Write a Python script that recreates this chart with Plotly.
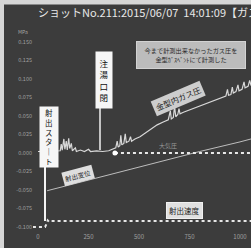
import plotly.graph_objects as go

# ---------------- data ----------------
x_ticks = [0, 250, 500, 750, 1000]
x_tick_labels = ["0", "250", "500", "750", "1000"]
y_ticks = [0.150, 0.125, 0.100, 0.075, 0.050, 0.025, 0.000, -0.025, -0.050, -0.075, -0.100]
y_tick_labels = ["0.150", "0.125", "0.100", "0.075", "0.050", "0.025", "0.000",
                 "-0.025", "-0.050", "-0.075", "-0.100"]

gas_x = [0, 30, 60, 90, 110, 115, 120, 128, 133, 140, 145, 152, 157, 165, 170, 185, 190,
         210, 230, 250, 260, 290, 320, 350,
         370, 385, 392, 397, 405, 410, 415, 425, 432, 437, 450, 458, 463, 480, 505, 530,
         560, 590, 620, 645, 655, 660, 670, 676, 682, 692, 698, 703, 720, 750, 780, 800,
         830, 860, 890, 915, 930, 938, 943, 955, 962, 967, 980, 990, 995, 1010, 1020,
         1025, 1040, 1048, 1055]
gas_y = [0.002, 0.002, 0.003, 0.002, 0.003, 0.012, 0.004, 0.019, 0.005, 0.016, 0.004,
         0.020, 0.006, 0.013, 0.003, 0.007, 0.002,
         0.004, 0.002, 0.005, 0.002, 0.003, 0.002, 0.003,
         0.005, 0.007, 0.016, 0.008, 0.010, 0.024, 0.011, 0.013, 0.026, 0.014, 0.016,
         0.022, 0.016, 0.019, 0.022, 0.027,
         0.033, 0.038, 0.042, 0.045, 0.057, 0.046, 0.048, 0.063, 0.049, 0.052, 0.060,
         0.053, 0.055, 0.058, 0.062, 0.064,
         0.067, 0.070, 0.072, 0.075, 0.077, 0.086, 0.078, 0.079, 0.089, 0.081, 0.083,
         0.092, 0.084, 0.086, 0.096,
         0.088, 0.090, 0.098, 0.091]

disp_x = [45, 200, 400, 600, 800, 1000, 1055]
disp_y = [-0.051, -0.040, -0.026, -0.012, 0.002, 0.015, 0.019]

speed_x = [-25, 35, 42, 48, 55, 62, 80, 1055]
speed_y = [-0.100, -0.100, -0.096, -0.091, -0.093, -0.092, -0.092, -0.092]

atm_x = [381, 1055]
atm_y = [0.0, 0.0]

# ---------------- layout geometry ----------------
W, H = 251, 248
ML, MR, MT, MB = 33, 0, 25, 16
FONT = "Noto Sans CJK JP"
BG = "#3c3c3c"


def pxx(px):
    return (px - ML) / (W - ML - MR)


def pxy(py):
    return (H - MB - py) / (H - MT - MB)


fig = go.Figure()

fig.add_trace(go.Scatter(x=speed_x, y=speed_y, mode="lines",
                         line=dict(color="#e6e6e6", width=2, dash="dot"),
                         hoverinfo="skip", showlegend=False))
fig.add_trace(go.Scatter(x=disp_x, y=disp_y, mode="lines",
                         line=dict(color="#bdbdbd", width=1),
                         hoverinfo="skip", showlegend=False))
fig.add_trace(go.Scatter(x=atm_x, y=atm_y, mode="lines",
                         line=dict(color="#e8e8e8", width=2, dash="dot"),
                         hoverinfo="skip", showlegend=False))
fig.add_trace(go.Scatter(x=gas_x, y=gas_y, mode="lines",
                         line=dict(color="#d8d8d8", width=1.2),
                         hoverinfo="skip", showlegend=False))
fig.add_trace(go.Scatter(x=atm_x[:1], y=atm_y[:1], mode="markers",
                         marker=dict(color="#ffffff", size=5),
                         hoverinfo="skip", showlegend=False))

shapes = []
# pointer lines of the callouts
shapes.append(dict(type="line", xref="paper", yref="paper",
                   x0=pxx(45), x1=pxx(45), y0=pxy(166), y1=pxy(221),
                   line=dict(color="#f4f4f4", width=2)))
shapes.append(dict(type="line", xref="paper", yref="paper",
                   x0=pxx(100), x1=pxx(100), y0=pxy(107), y1=pxy(150),
                   line=dict(color="#f0f0f0", width=1.5)))
# light frame at top and left
shapes.append(dict(type="rect", xref="paper", yref="paper",
                   x0=pxx(-2), x1=pxx(253), y0=pxy(4.5), y1=pxy(-2),
                   fillcolor="#d6d6d6", line=dict(width=0)))
shapes.append(dict(type="rect", xref="paper", yref="paper",
                   x0=pxx(-2), x1=pxx(4), y0=pxy(250), y1=pxy(-2),
                   fillcolor="#d6d6d6", line=dict(width=0)))

C = dict(xref="paper", yref="paper", xanchor="center", yanchor="middle", showarrow=False)

ann = []
ann.append(dict(text="MPa", x=pxx(23), y=pxy(31),
                font=dict(family=FONT, size=5, color="#a8a8a8"), **C))
ann.append(dict(text="射<br>出<br>ス<br>タ<br>｜<br>ト", x=pxx(49), y=pxy(137),
                width=14, height=56, bgcolor="#f6f6f6", borderpad=2,
                font=dict(family=FONT, size=7.5, color="#111111"), **C))
ann.append(dict(text="注<br>湯<br>口<br>閉", x=pxx(104), y=pxy(80),
                width=12, height=52, bgcolor="#f6f6f6", borderpad=2,
                font=dict(family=FONT, size=8.5, color="#111111"), **C))
ann.append(dict(text="金型内ガス圧", x=pxx(178), y=pxy(98), textangle=-23,
                bgcolor="#cdcdcd", borderpad=2,
                font=dict(family=FONT, size=8, color="#222222"), **C))
ann.append(dict(text="射出変位", x=pxx(78), y=pxy(175), textangle=-15,
                bgcolor="#dedede", borderpad=1.5,
                font=dict(family=FONT, size=6.5, color="#222222"), **C))
ann.append(dict(text="射出速度", x=pxx(184), y=pxy(210.5),
                bgcolor="#e0e0e0", borderpad=2, bordercolor="#f0f0f0", borderwidth=1,
                font=dict(family=FONT, size=7.5, color="#222222"), **C))
ann.append(dict(text="大気圧", x=pxx(168), y=pxy(145),
                font=dict(family=FONT, size=6, color="#9a9a9a"), **C))
ann.append(dict(text="今まで計測出来なかったガス圧を<br>金型ｶﾞｽﾍﾞﾝﾄにて計測した",
                x=pxx(191), y=pxy(55), width=104, height=22, borderpad=2,
                bgcolor="#bcbcbc", bordercolor="#d2d2d2", borderwidth=1,
                font=dict(family=FONT, size=6.2, color="#2a2a2a"), **C))

fig.update_layout(
    width=W, height=H,
    margin=dict(l=ML, r=MR, t=MT, b=MB, pad=0),
    paper_bgcolor=BG, plot_bgcolor=BG,
    showlegend=False,
    font=dict(family=FONT),
    title=dict(text="ショットNo.211:2015/06/07  14:01:09【ガス圧】",
               x=38 / W, xref="container", xanchor="left",
               y=1 - 13 / H, yref="container", yanchor="middle",
               font=dict(family=FONT, size=11, color="#e8e8e8")),
    xaxis=dict(range=[(ML - 38) / 0.202, (W - 38) / 0.202],
               tickvals=x_ticks, ticktext=x_tick_labels,
               showgrid=False, zeroline=False, showline=False, ticks="",
               tickfont=dict(family=FONT, size=6, color="#a0a0a0"), fixedrange=True),
    yaxis=dict(range=[-0.100 - 5 / 740, 0.150 + 17 / 740],
               tickvals=y_ticks, ticktext=y_tick_labels,
               showgrid=False, zeroline=False, showline=False, ticks="",
               tickfont=dict(family=FONT, size=5.5, color="#a0a0a0"), fixedrange=True),
    shapes=shapes,
    annotations=ann,
)

fig.write_html("out.html", config={"displayModeBar": False},
               post_script="document.body.style.margin='0';document.body.style.overflow='hidden';")
